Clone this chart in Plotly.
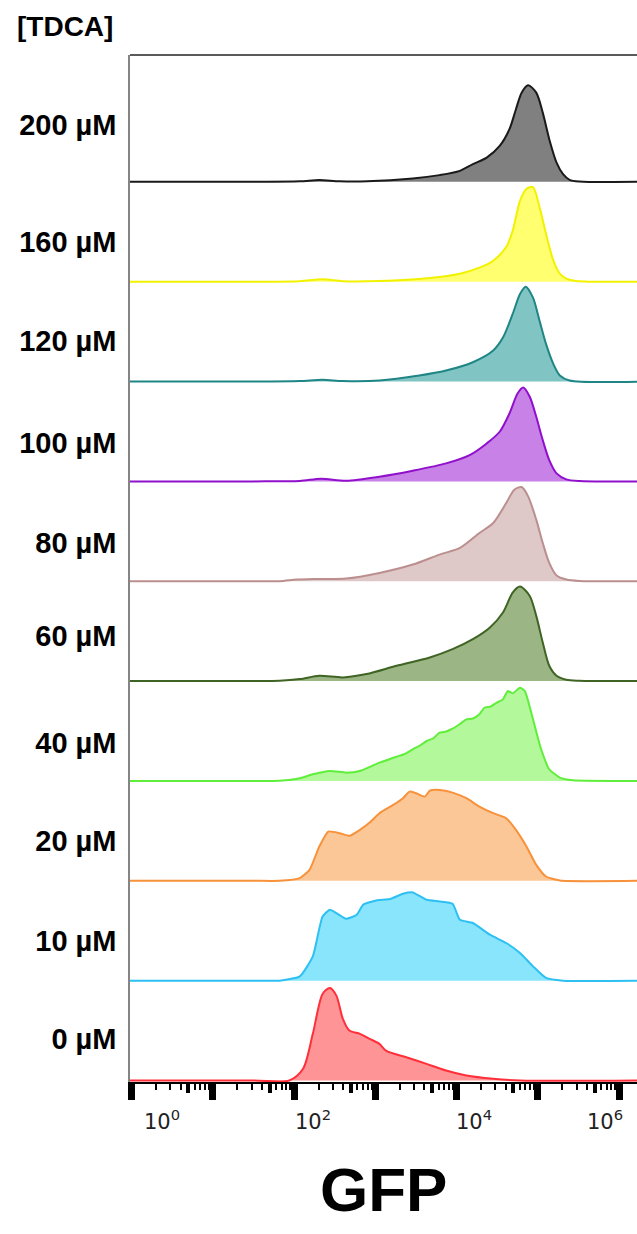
import plotly.graph_objects as go

# Concentration labels, top row first
conc_labels = ["200 µM", "160 µM", "120 µM", "100 µM", "80 µM",
               "60 µM", "40 µM", "20 µM", "10 µM", "0 µM"]

# Histogram outlines: log10(GFP) positions and peak-normalised counts (%)
gfp_200 = [-0.05, 1.5, 2.07, 2.31, 2.56, 2.9, 3.46, 3.79, 4.04, 4.20, 4.37, 4.53, 4.65, 4.73, 4.80, 4.88, 4.98, 5.06, 5.14, 5.23, 5.31, 5.39, 5.51, 6.3]
cnt_200 = [0, 0, 0.5, 1.7, 0.5, 0.5, 3.3, 6.7, 11, 17.7, 24.3, 36, 52.7, 72.7, 89.3, 96.7, 89.3, 69.3, 42.7, 19.3, 7.7, 2, 0.3, 0]

gfp_160 = [-0.05, 1.5, 2.07, 2.35, 2.6, 3.05, 3.67, 4.04, 4.28, 4.45, 4.61, 4.69, 4.78, 4.86, 4.94, 5.02, 5.10, 5.19, 5.27, 5.35, 5.47, 6.3]
cnt_160 = [0, 0, 0.5, 2.3, 0.5, 0.7, 3.7, 8, 14, 21, 34.7, 51, 81, 93, 94.7, 74.7, 48, 21.3, 8, 3, 0.7, 0]

gfp_120 = [-0.05, 1.5, 2.07, 2.35, 2.6, 3.05, 3.54, 3.87, 4.20, 4.45, 4.57, 4.69, 4.78, 4.85, 4.94, 5.02, 5.10, 5.19, 5.27, 5.39, 6.3]
cnt_120 = [0, 0, 0.5, 1.7, 0.5, 1, 6, 11, 19.3, 31, 44, 67.7, 87.7, 95, 84, 61, 37.7, 17.7, 6, 1, 0]

gfp_100 = [-0.05, 1.5, 2.07, 2.33, 2.64, 3.05, 3.46, 3.87, 4.16, 4.37, 4.53, 4.65, 4.75, 4.82, 4.90, 4.98, 5.06, 5.14, 5.23, 5.35, 5.51, 6.3]
cnt_100 = [0, 0, 0.5, 2.7, 0.7, 4.7, 10.7, 18, 26.3, 38, 49.7, 68, 88, 94, 84.7, 64.7, 41.3, 21.3, 8, 2, 0.3, 0]

gfp_80 = [-0.05, 1.5, 1.82, 2.03, 2.23, 2.64, 3.05, 3.46, 3.79, 4.04, 4.28, 4.45, 4.61, 4.71, 4.80, 4.88, 4.98, 5.06, 5.14, 5.23, 5.35, 5.51, 6.3]
cnt_80 = [0, 0, 0, 1.7, 2.3, 2.7, 8.3, 16.7, 26.7, 33.3, 48.3, 58.3, 78.3, 91.7, 94.3, 85, 61.7, 38.3, 18.3, 5.7, 1.7, 0.3, 0]

gfp_60 = [-0.05, 1.5, 1.82, 2.07, 2.31, 2.60, 2.89, 3.26, 3.67, 3.95, 4.20, 4.41, 4.57, 4.69, 4.78, 4.90, 4.98, 5.06, 5.14, 5.23, 5.35, 5.51, 6.3]
cnt_60 = [0, 0, 0.3, 2, 5.3, 3.7, 7, 15.3, 23.7, 32, 42, 53.7, 68.7, 88.7, 94.7, 85.3, 65.3, 38.7, 15.3, 5.3, 1.3, 0.3, 0]

gfp_40 = [-0.05, 1.5, 1.82, 2.07, 2.23, 2.44, 2.64, 2.81, 3.05, 3.26, 3.36, 3.46, 3.56, 3.63, 3.71, 3.79, 3.87, 3.95, 4.04, 4.12, 4.20, 4.28, 4.34, 4.42, 4.49, 4.57, 4.63, 4.69, 4.78, 4.84, 4.94, 5.04, 5.14, 5.27, 5.43, 6.3]
cnt_40 = [0, 0, 0.3, 2.7, 6.7, 10, 8.3, 10, 18.3, 24.3, 27, 31.7, 36, 40, 42.5, 48.3, 49.5, 52.3, 57, 61.7, 62.5, 66.7, 73.3, 74.5, 78.3, 81.7, 90, 87.7, 93.3, 90, 61.7, 31.7, 11.7, 3.3, 0.7, 0]

gfp_20 = [-0.05, 1.5, 1.82, 2.07, 2.19, 2.31, 2.42, 2.56, 2.68, 2.81, 2.93, 3.05, 3.22, 3.34, 3.42, 3.50, 3.61, 3.67, 3.79, 3.95, 4.12, 4.28, 4.45, 4.61, 4.73, 4.86, 4.98, 5.10, 5.27, 6.3]
cnt_20 = [0, 0, 0, 2.7, 11, 34.3, 49.3, 47.7, 45, 51, 58.3, 67.7, 76, 82.7, 89.3, 87.7, 84.3, 90.3, 91, 88.3, 82.7, 74.3, 67.7, 62.7, 51, 34.3, 16, 4.3, 0.3, 0]

gfp_10 = [-0.05, 1.5, 1.82, 2.07, 2.23, 2.35, 2.44, 2.52, 2.64, 2.77, 2.85, 3.01, 3.18, 3.34, 3.46, 3.63, 3.79, 3.95, 4.04, 4.20, 4.41, 4.61, 4.78, 4.94, 5.10, 5.31, 6.3]
cnt_10 = [0, 0, 0, 4.3, 24.3, 64.3, 71, 67.7, 62, 66, 76, 80.3, 81.7, 87, 88.3, 81, 79.3, 77, 61, 57.7, 46, 37.7, 27.7, 14.3, 2.7, 0, 0]

gfp_0 = [-0.05, 1.5, 1.94, 2.11, 2.23, 2.35, 2.44, 2.52, 2.60, 2.68, 2.81, 2.93, 3.05, 3.13, 3.38, 3.63, 3.87, 4.12, 4.45, 4.78, 6.3]
cnt_0 = [0, 0, 0, 11.7, 46.7, 86.7, 92.7, 85, 61.7, 50, 46.7, 41.7, 36.7, 30, 23.3, 16.7, 10, 5, 1.7, 0, 0]

gfp_rows = [gfp_200, gfp_160, gfp_120, gfp_100, gfp_80, gfp_60, gfp_40, gfp_20, gfp_10, gfp_0]
cnt_rows = [cnt_200, cnt_160, cnt_120, cnt_100, cnt_80, cnt_60, cnt_40, cnt_20, cnt_10, cnt_0]

line_colors = ["#1a1a1a", "#f2f200", "#1f8585", "#9010cc", "#bc8f8f",
               "#3f6424", "#5fee3a", "#f7913a", "#2ec0f2", "#ff2f3a"]
fill_colors = ["#808080", "#ffff70", "#80c5c4", "#c881e6", "#dec8c8",
               "#9bb584", "#b3f89a", "#fbc797", "#88e5fc", "#ff9496"]
smooth = [0.8, 0.8, 0.8, 0.8, 0.8, 0.8, 0.5, 0.5, 0.5, 0.8]

# Label height within each row (row units above its baseline)
label_offset = [0.57, 0.40, 0.41, 0.39, 0.38, 0.45, 0.38, 0.40, 0.40, 0.42]

# Axis tick labels for the decades
decade_text = ["10<sup>0</sup>", "10<sup>2</sup>", "10<sup>4</sup>", "10<sup>6</sup>"]
decade_label_x = [0.37, 2.23, 4.21, 5.82]

n_rows = len(conc_labels)
fig = go.Figure()

for i in range(n_rows):
    base = n_rows - 1 - i
    xs = [10 ** v for v in gfp_rows[i]]
    fig.add_trace(go.Scatter(x=xs, y=[base] * len(xs), mode="lines",
                             line=dict(width=0), hoverinfo="skip",
                             showlegend=False))
    fig.add_trace(go.Scatter(
        x=xs, y=[base + c / 100 for c in cnt_rows[i]], mode="lines",
        line=dict(color=line_colors[i], width=2, shape="spline",
                  smoothing=smooth[i]),
        fill="tonexty", fillcolor=fill_colors[i],
        name=conc_labels[i], showlegend=False))

decades = [10 ** k for k in range(0, 7)]
minor_vals = [m * 10 ** k for k in range(0, 7) for m in (2, 3, 4, 6, 7, 8, 9)]
mid_vals = [5 * 10 ** k for k in range(0, 7)]
x_range = [-0.02, 6.22]

# Empty companion trace so the overlaid half-decade tick axis is rendered
fig.add_trace(go.Scatter(x=[10 ** x_range[0]], y=[None], xaxis="x2",
                         mode="lines", hoverinfo="skip", showlegend=False))

fig.update_layout(
    width=637, height=1234,
    margin=dict(l=130, r=0, t=55, b=152),
    plot_bgcolor="white", paper_bgcolor="white",
    showlegend=False,
    xaxis=dict(type="log", range=x_range, tickvals=decades,
               ticks="outside", ticklen=16, tickwidth=7, tickcolor="black",
               minor=dict(tickvals=minor_vals, ticks="outside", ticklen=6,
                          tickwidth=2, tickcolor="black", showgrid=False),
               showticklabels=False, showline=True, linecolor="black",
               linewidth=2, showgrid=False, zeroline=False),
    xaxis2=dict(type="log", range=x_range, overlaying="x", anchor="y",
                side="bottom", tickvals=mid_vals, ticks="outside",
                ticklen=10, tickwidth=4, tickcolor="black",
                showticklabels=False, showline=False, showgrid=False,
                zeroline=False),
    yaxis=dict(range=[-0.015, 10.27],
               tickvals=[n_rows - 1 - i + label_offset[i] for i in range(n_rows)],
               ticktext=conc_labels, ticks="", ticklabelstandoff=6,
               tickfont=dict(family="Liberation Sans", size=29,
                             color="black", weight="bold"),
               showline=True, linecolor="#858585", linewidth=1.5,
               showgrid=False, zeroline=False),
)

# Top frame edge
fig.add_shape(type="line", xref="paper", yref="paper", x0=0, x1=1, y0=1, y1=1,
              line=dict(color="#5a5a5a", width=2))

for txt, xv in zip(decade_text, decade_label_x):
    fig.add_annotation(x=xv, xref="x", y=-0.037, yref="paper", text=txt,
                       showarrow=False, xanchor="center", yanchor="middle",
                       font=dict(family="DejaVu Sans", size=21, color="#222"))

fig.add_annotation(x=0.5, xref="paper", y=-0.105, yref="paper",
                   text="<b>GFP</b>", showarrow=False, yanchor="middle",
                   font=dict(family="Liberation Sans", size=62, color="black"))

fig.add_annotation(x=-0.227, xref="paper", y=1.028, yref="paper",
                   text="<b>[TDCA]</b>", showarrow=False, xanchor="left",
                   yanchor="middle",
                   font=dict(family="Liberation Sans", size=28, color="black"))

fig.write_html("out.html")
